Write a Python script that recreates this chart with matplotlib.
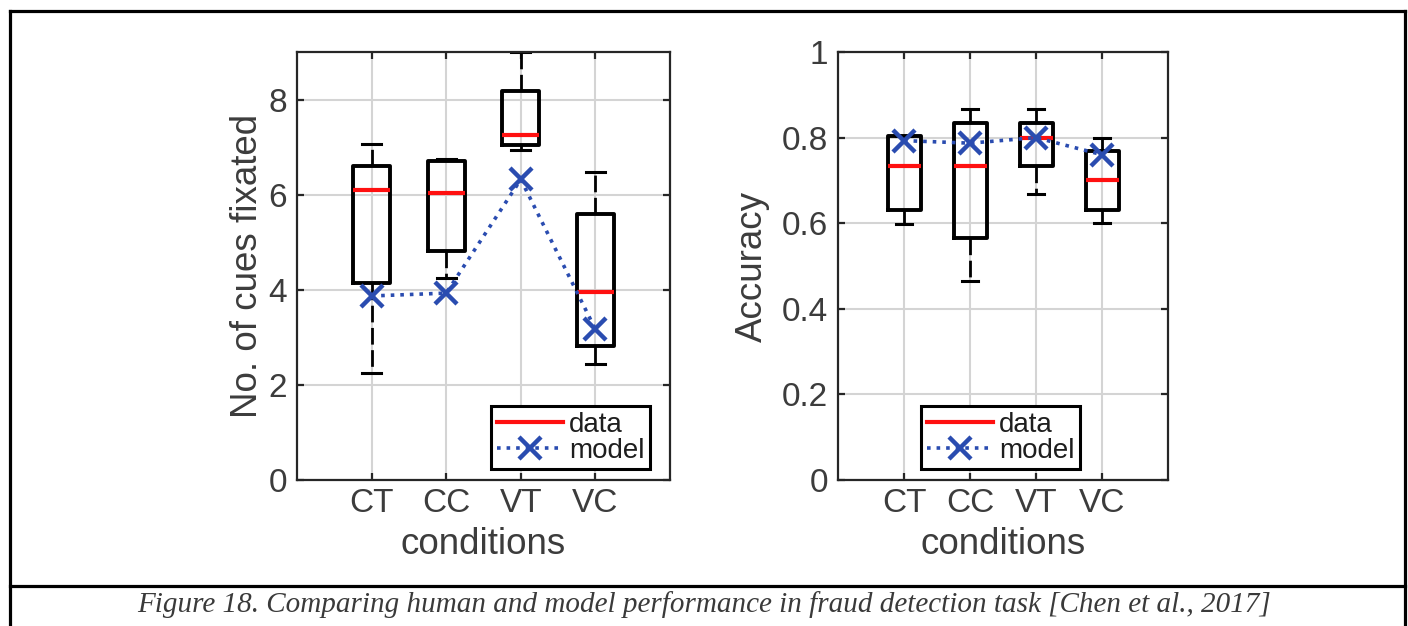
import matplotlib
matplotlib.use('Agg')
import matplotlib.pyplot as plt
from matplotlib.lines import Line2D

# conditions on the x axis
conditions = ['CT', 'CC', 'VT', 'VC']
positions = [1, 2, 3, 4]

# left panel: number of cues fixated (box stats)
cues_lo = [2.25, 4.25, 6.93, 2.44]
cues_q1 = [4.14, 4.81, 7.05, 2.81]
cues_med = [6.09, 6.03, 7.26, 3.95]
cues_q3 = [6.61, 6.70, 8.19, 5.60]
cues_hi = [7.07, 6.76, 9.00, 6.47]
cues_model = [3.87, 3.93, 6.32, 3.17]

# right panel: accuracy
acc_lo = [0.598, 0.465, 0.668, 0.600]
acc_q1 = [0.630, 0.565, 0.733, 0.630]
acc_med = [0.733, 0.733, 0.800, 0.700]
acc_q3 = [0.803, 0.834, 0.834, 0.768]
acc_hi = [0.803, 0.867, 0.867, 0.800]
acc_model = [0.793, 0.787, 0.800, 0.760]

caption = 'Figure 18. Comparing human and model performance in fraud detection task [Chen et al., 2017]'

text_col = '#3c3c3c'
axis_col = '#262626'
blue = '#2a4cb0'

plt.rcParams['font.family'] = ['Liberation Sans', 'DejaVu Sans']

fig = plt.figure(figsize=(14.08, 6.26), dpi=100)
W, H = 1408, 626


def px_axes(x0, y0, x1, y1):
    return fig.add_axes([x0 / W, 1 - y1 / H, (x1 - x0) / W, (y1 - y0) / H])


def draw_panel(ax, lo, q1, med, q3, hi, model, ylim, yticks, yticklabels, ylabel, ylab_x, leg_xy):
    stats = []
    for i in range(len(conditions)):
        stats.append(dict(whislo=lo[i], q1=q1[i], med=med[i], q3=q3[i], whishi=hi[i], fliers=[]))
    ax.bxp(stats, positions=positions, widths=0.5, capwidths=0.25, showfliers=False,
           manage_ticks=False,
           boxprops=dict(color='black', linewidth=2.8),
           medianprops=dict(color='#ff1010', linewidth=3),
           whiskerprops=dict(color='black', linewidth=2, linestyle=(0, (6, 2))),
           capprops=dict(color='black', linewidth=2.2))
    red_line = Line2D([], [], color='#ff1010', linewidth=3)
    model_line, = ax.plot(positions, model, linestyle=':', color=blue, linewidth=2.6,
                          marker='x', markersize=16, markeredgewidth=3.2, zorder=5)

    ax.set_xlim(0, 5)
    ax.set_ylim(*ylim)
    ax.set_xticks(positions)
    ax.set_xticklabels(conditions)
    ax.set_yticks(yticks)
    ax.set_yticklabels(yticklabels)
    ax.grid(True, color='#d4d4d4', linewidth=1.5)
    ax.set_axisbelow(True)
    for sp in ax.spines.values():
        sp.set_color(axis_col)
        sp.set_linewidth(1.6)
    ax.tick_params(direction='in', length=5, width=1.6, color=axis_col,
                   top=True, right=True, labelsize=24, labelcolor=text_col)
    ax.tick_params(axis='x', pad=6)
    ax.tick_params(axis='y', pad=7)
    ax.set_xlabel('conditions', fontsize=26.5, color=text_col)
    ax.xaxis.set_label_coords(0.5, -0.11)
    ax.set_ylabel(ylabel, fontsize=26.5, color=text_col)
    ax.yaxis.set_label_coords(ylab_x, 0.5)

    leg = ax.legend([red_line, model_line], ['data', 'model'], loc='upper left',
                    bbox_to_anchor=(leg_xy[0] / W, 1 - leg_xy[1] / H),
                    bbox_transform=fig.transFigure, fontsize=20, numpoints=1,
                    handlelength=2.4, handletextpad=0.2, labelspacing=0.0,
                    borderpad=0.2, borderaxespad=0, fancybox=False, framealpha=1)
    leg.get_frame().set_edgecolor('black')
    leg.get_frame().set_linewidth(2.2)
    for t in leg.get_texts():
        t.set_color('#1e1e1e')


ax1 = px_axes(297, 52, 670, 480)
draw_panel(ax1, cues_lo, cues_q1, cues_med, cues_q3, cues_hi, cues_model,
           (0, 9), [0, 2, 4, 6, 8], ['0', '2', '4', '6', '8'],
           'No. of cues fixated', -0.085, (491, 406))

ax2 = px_axes(838, 52, 1168, 480)
draw_panel(ax2, acc_lo, acc_q1, acc_med, acc_q3, acc_hi, acc_model,
           (0, 1), [0, 0.2, 0.4, 0.6, 0.8, 1.0], ['0', '0.2', '0.4', '0.6', '0.8', '1'],
           'Accuracy', -0.205, (921, 406))

# outer frame and caption box
frame_kw = dict(color='black', linewidth=2.3, transform=None, solid_capstyle='projecting')
for xs, ys in [((9.5, 1404.5), (H - 11, H - 11)),
               ((9.5, 1404.5), (H - 585.5, H - 585.5)),
               ((9.5, 9.5), (H - 11, 0)),
               ((1404.5, 1404.5), (H - 11, 0))]:
    fig.add_artist(Line2D(xs, ys, **frame_kw))

fig.text(0.5, 1 - 612 / H, caption, ha='center', va='baseline', fontsize=21,
         family='Liberation Serif', style='italic', color='#3a3a3a')

fig.savefig('out.png', dpi=100)
